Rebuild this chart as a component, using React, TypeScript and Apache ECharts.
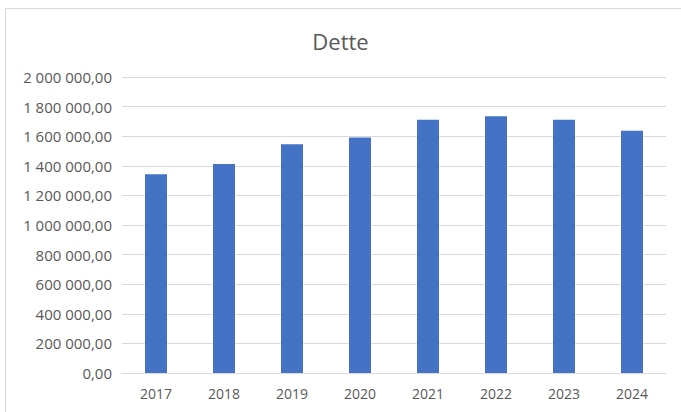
import React, { useEffect, useRef } from "react";
import * as echarts from "echarts";

const categories = ["2017", "2018", "2019", "2020", "2021", "2022", "2023", "2024"];
const values = [1343000, 1412000, 1545000, 1592000, 1711000, 1734000, 1711000, 1636000];
const yMin = 0;
const yMax = 2000000;
const yInterval = 200000;

function formatNum(v: number): string {
  const fixed = v.toFixed(2);
  const [intPart, dec] = fixed.split(".");
  const withSpaces = intPart.replace(/\B(?=(\d{3})+(?!\d))/g, " ");
  return withSpaces + "," + dec;
}

export default function App() {
  const ref = useRef<HTMLDivElement>(null);
  useEffect(() => {
    if (!ref.current) return;
    const chart = echarts.init(ref.current, undefined, { renderer: "svg" });
    const font = "'Open Sans', 'Noto Sans', sans-serif";
    chart.setOption({
      animation: false,
      backgroundColor: "#ffffff",
      title: {
        text: "Dette",
        left: "center",
        top: 25,
        textStyle: { fontFamily: font, fontSize: 22, fontWeight: "normal", color: "#595959" },
      },
      grid: { left: 122, right: 15, top: 77, bottom: 39, containLabel: false },
      xAxis: {
        type: "category",
        data: categories,
        axisLine: { show: true, lineStyle: { color: "#d9d9d9", width: 1 } },
        axisTick: { show: false },
        axisLabel: { color: "#595959", fontFamily: font, fontSize: 14, margin: 13 },
      },
      yAxis: {
        type: "value",
        min: yMin,
        max: yMax,
        interval: yInterval,
        axisLine: { show: false },
        axisTick: { show: false },
        splitLine: { lineStyle: { color: "#d9d9d9", width: 1 } },
        axisLabel: {
          color: "#595959",
          fontFamily: font,
          fontSize: 15,
          margin: 10,
          formatter: (v: number) => formatNum(v),
        },
      },
      series: [
        {
          type: "bar",
          data: values,
          barWidth: 22,
          itemStyle: { color: "#4472C4" },
        },
      ],
      graphic: [
        { type: "line", shape: { x1: 5.5, y1: 8.5, x2: 5.5, y2: 412 }, style: { stroke: "#d9d9d9", lineWidth: 1 } },
        { type: "line", shape: { x1: 5.5, y1: 8.5, x2: 681, y2: 8.5 }, style: { stroke: "#d9d9d9", lineWidth: 1 } },
      ],
    });
    return () => chart.dispose();
  }, []);
  return (
    <div
      ref={ref}
      style={{ position: "fixed", left: 0, top: 0, width: 681, height: 412 }}
    />
  );
}
